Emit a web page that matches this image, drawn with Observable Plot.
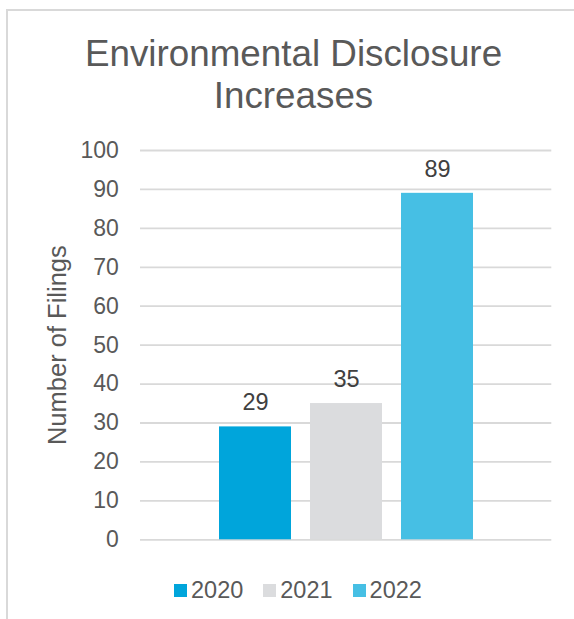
<!DOCTYPE html>
<html>
<head>
<meta charset="utf-8">
<script src="https://cdn.jsdelivr.net/npm/d3@7"></script>
<script src="https://cdn.jsdelivr.net/npm/@observablehq/plot@0.6"></script>
<style>
  html, body { margin: 0; padding: 0; background: #fff; }
  #wrap { position: relative; width: 574px; height: 619px; overflow: hidden; background: #fff;
          font-family: "Liberation Sans", Arial, sans-serif; }
  #frame { position: absolute; left: 6px; top: 9px; width: 700px; height: 800px;
           border-top: 2px solid #d9d9d9; border-left: 2px solid #d9d9d9; }
  #title { position: absolute; left: 0; top: 32.5px; width: 587px; text-align: center;
           font-size: 36.8px; line-height: 42.3px; color: #595959; }
  #chart { position: absolute; left: 0; top: 0; }
  #legend { position: absolute; left: 174px; top: 577px; display: flex; align-items: center;
            font-size: 23.5px; color: #595959; line-height: normal; }
  .item { display: flex; align-items: center; margin-right: 20px; }
  .sw { width: 13px; height: 13px; margin-right: 4px; }
</style>
</head>
<body>
<div id="wrap">
  <div id="frame"></div>
  <div id="title">Environmental Disclosure<br>Increases</div>
  <div id="chart"></div>
  <div id="legend"></div>
</div>
<script>
const years = ["2020", "2021", "2022"];
const filings = [29, 35, 89];
const colors = ["#00a5db", "#dbdcde", "#46bfe4"];
const yTicks = [0, 10, 20, 30, 40, 50, 60, 70, 80, 90, 100];
const yLabel = "Number of Filings";

const data = years.map((y, i) => ({year: y, value: filings[i]}));

const plot = Plot.plot({
  width: 574,
  height: 619,
  marginTop: 150,
  marginBottom: 79.7,
  marginLeft: 140,
  marginRight: 22.7,
  style: {fontFamily: "Liberation Sans, Arial, sans-serif", color: "#595959", background: "transparent"},
  x: {domain: years, paddingInner: 0.2131, paddingOuter: 0.8541, axis: null},
  y: {domain: [0, 100]},
  color: {domain: years, range: colors},
  marks: [
    Plot.gridY(yTicks, {stroke: "#d9d9d9", strokeOpacity: 1, strokeWidth: 1.8}),
    Plot.barY(data, {x: "year", y: "value", fill: "year"}),
    Plot.text(data, {x: "year", y: "value", text: d => String(d.value), lineAnchor: "bottom",
                     dy: -16.8, fontSize: 23.5, fill: "#404040"}),
    Plot.axisY(yTicks, {tickSize: 0, tickPadding: 21.7, fontSize: 23, label: null}),
    Plot.text([yLabel], {frameAnchor: "left", textAnchor: "middle", rotate: -90, dx: -83,
                         fontSize: 25.5, fill: "#595959"})
  ]
});
document.getElementById("chart").appendChild(plot);

const legend = document.getElementById("legend");
years.forEach((y, i) => {
  const item = document.createElement("div");
  item.className = "item";
  const sw = document.createElement("div");
  sw.className = "sw";
  sw.style.background = colors[i];
  const t = document.createElement("span");
  t.textContent = y;
  item.appendChild(sw);
  item.appendChild(t);
  legend.appendChild(item);
});
</script>
</body>
</html>
